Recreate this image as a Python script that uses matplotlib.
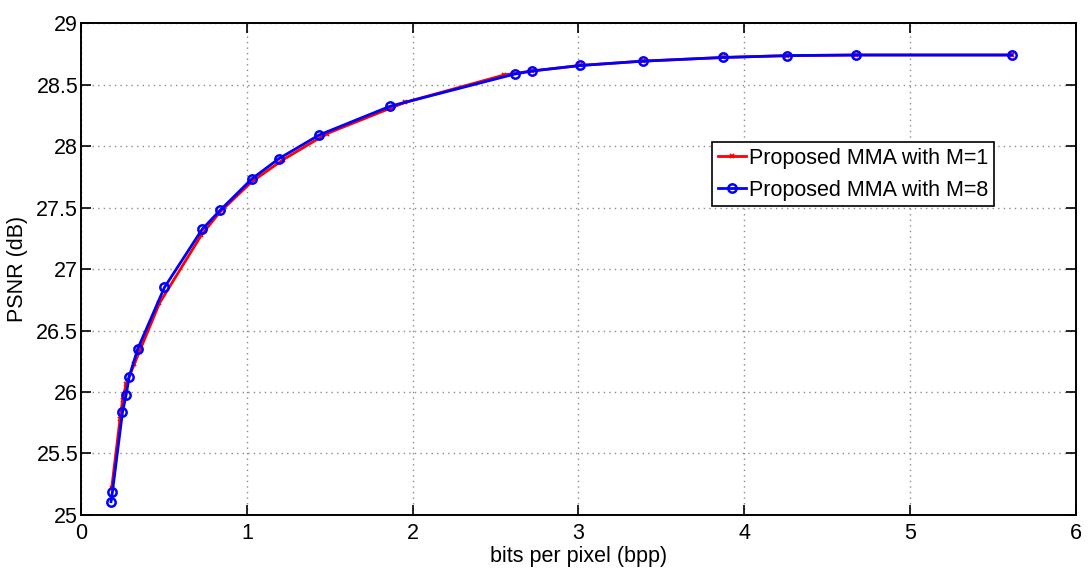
import matplotlib
matplotlib.use("Agg")
import matplotlib.pyplot as plt

plt.rcParams['font.family'] = ['Liberation Sans', 'DejaVu Sans']

# Proposed MMA with M=1
bpp_m1 = [0.185, 0.235, 0.251, 0.272, 0.322, 0.473, 0.726, 0.835, 1.028, 1.219,
          1.481, 1.954, 2.553, 2.719, 3.012, 3.387, 3.873, 4.260, 4.675, 5.613]
psnr_m1 = [25.22, 25.778, 25.938, 26.062, 26.23, 26.722, 27.276, 27.459, 27.708, 27.889,
           28.100, 28.355, 28.578, 28.61, 28.655, 28.69, 28.72, 28.735, 28.74, 28.74]

# Proposed MMA with M=8
bpp_m8 = [0.181, 0.189, 0.250, 0.272, 0.290, 0.342, 0.503, 0.730, 0.839, 1.032,
          1.193, 1.435, 1.865, 2.615, 2.719, 3.012, 3.387, 3.873, 4.260, 4.675, 5.613]
psnr_m8 = [25.108, 25.184, 25.835, 25.976, 26.122, 26.351, 26.85, 27.322, 27.478, 27.735,
           27.897, 28.089, 28.324, 28.585, 28.61, 28.655, 28.69, 28.72, 28.735, 28.74, 28.74]

xticks = [0, 1, 2, 3, 4, 5, 6]
yticks = [25, 25.5, 26, 26.5, 27, 27.5, 28, 28.5, 29]
ytick_labels = ['25', '25.5', '26', '26.5', '27', '27.5', '28', '28.5', '29']

fig = plt.figure(figsize=(10.89, 5.70), dpi=100)
ax = fig.add_axes([0.0744, 0.0965, 0.9136, 0.8631])

ax.plot(bpp_m1, psnr_m1, color='red', linewidth=2, marker='x', markersize=3.5,
        markeredgewidth=1.3, label='Proposed MMA with M=1', zorder=3)
ax.plot(bpp_m8, psnr_m8, color='blue', linewidth=2, marker='o', markersize=6,
        markerfacecolor='none', markeredgewidth=1.8, label='Proposed MMA with M=8', zorder=4)

ax.set_xlim(0, 6)
ax.set_ylim(25, 29)
ax.set_xticks(xticks)
ax.set_yticks(yticks)
ax.set_yticklabels(ytick_labels)
ax.tick_params(direction='in', top=True, right=True, labelsize=15.5, length=7, width=1.2)
ax.tick_params(axis='y', pad=2)
ax.tick_params(axis='x', pad=6)
ax.grid(True, linestyle=(0, (1, 3)), color='#8c8c8c', linewidth=1)
for s in ax.spines.values():
    s.set_linewidth(1.4)

ax.set_xlabel('bits per pixel (bpp)', fontsize=15.5, labelpad=1)
ax.set_ylabel('PSNR (dB)', fontsize=15.5, labelpad=6)

leg = ax.legend(loc='upper left', bbox_to_anchor=(0.634, 0.758), fontsize=15.5,
                fancybox=False, framealpha=1, edgecolor='black', borderpad=0.27,
                handlelength=1.3, handletextpad=0.15, labelspacing=0.5, borderaxespad=0)
leg.get_frame().set_linewidth(1.2)

fig.savefig('out.png', dpi=100)
